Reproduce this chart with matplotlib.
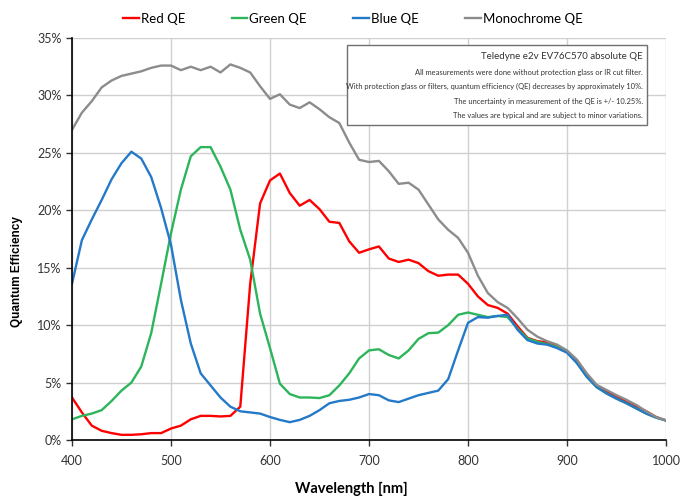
import matplotlib
matplotlib.use("Agg")
import matplotlib.pyplot as plt
from matplotlib.patches import Rectangle
from matplotlib.ticker import PercentFormatter

NARROW = ['Lato', 'DejaVu Sans']

wavelength = list(range(400, 1001, 10))

red_qe = [3.7, 2.4, 1.25, 0.8, 0.6, 0.45, 0.45, 0.5, 0.6, 0.6,
          1.0, 1.25, 1.8, 2.1, 2.1, 2.05, 2.1, 2.9, 13.6, 20.6,
          22.6, 23.2, 21.5, 20.4, 20.9, 20.1, 19.0, 18.9, 17.3, 16.3,
          16.6, 16.85, 15.8, 15.5, 15.7, 15.4, 14.7, 14.3, 14.4, 14.4,
          13.6, 12.5, 11.75, 11.5, 11.0, 9.9, 8.9, 8.6, 8.5, 8.2,
          7.7, 6.8, 5.7, 4.65, 4.2, 3.8, 3.3, 2.9, 2.5, 2.0, 1.7]

green_qe = [1.8, 2.1, 2.3, 2.6, 3.4, 4.3, 5.0, 6.4, 9.3, 13.6,
            18.0, 21.8, 24.7, 25.5, 25.5, 23.8, 21.8, 18.3, 15.7, 11.0,
            8.0, 4.9, 4.0, 3.7, 3.7, 3.65, 3.9, 4.75, 5.8, 7.1,
            7.8, 7.9, 7.4, 7.1, 7.8, 8.8, 9.3, 9.35, 10.0, 10.9,
            11.1, 10.9, 10.7, 10.8, 10.7, 9.7, 8.85, 8.55, 8.35, 8.1,
            7.7, 6.7, 5.5, 4.6, 4.05, 3.6, 3.2, 2.75, 2.3, 1.95, 1.7]

blue_qe = [13.6, 17.4, 19.2, 20.9, 22.7, 24.1, 25.1, 24.5, 22.9, 20.2,
           17.0, 12.2, 8.4, 5.8, 4.75, 3.7, 2.9, 2.5, 2.4, 2.3,
           2.0, 1.75, 1.55, 1.75, 2.1, 2.6, 3.2, 3.4, 3.5, 3.7,
           4.0, 3.9, 3.45, 3.3, 3.6, 3.9, 4.1, 4.3, 5.3, 7.8,
           10.2, 10.7, 10.65, 10.8, 10.9, 9.6, 8.7, 8.4, 8.3, 8.0,
           7.6, 6.7, 5.5, 4.6, 4.05, 3.6, 3.2, 2.75, 2.3, 1.95, 1.7]

mono_qe = [27.0, 28.5, 29.5, 30.7, 31.3, 31.7, 31.9, 32.1, 32.4, 32.6,
           32.6, 32.2, 32.5, 32.2, 32.5, 32.0, 32.7, 32.4, 32.0, 30.8,
           29.7, 30.1, 29.2, 28.9, 29.4, 28.8, 28.1, 27.6, 25.9, 24.4,
           24.2, 24.3, 23.4, 22.3, 22.4, 21.8, 20.5, 19.2, 18.3, 17.6,
           16.3, 14.3, 12.8, 12.0, 11.5, 10.6, 9.6, 9.0, 8.6, 8.3,
           7.8, 7.0, 5.8, 4.8, 4.35, 3.9, 3.5, 3.05, 2.5, 2.0, 1.7]

series_names = ['Red QE', 'Green QE', 'Blue QE', 'Monochrome QE']
series_colors = ['#ff0000', '#2cb55a', '#2479c8', '#8c8c8c']

note_title = 'Teledyne e2v EV76C570 absolute QE'
note_lines = ['All measurements were done without protection glass or IR cut filter.',
              'With protection glass or filters, quantum efficiency (QE) decreases by approximately 10%.',
              'The uncertainty in measurement of the QE is +/- 10.25%.',
              'The values are typical and are subject to minor variations.']

fig = plt.figure(figsize=(6.81, 5.04), dpi=100)
ax = fig.add_axes([0.1057, 0.127, 0.8723, 0.7976])

lines = []
for vals, name, col in zip([red_qe, green_qe, blue_qe, mono_qe], series_names, series_colors):
    ln, = ax.plot(wavelength, vals, color=col, lw=1.7, label=name)
    lines.append(ln)

ax.set_xlim(400, 1000)
ax.set_ylim(0, 35)
ax.set_xticks(range(400, 1001, 100))
ax.set_yticks(range(0, 36, 5))
ax.yaxis.set_major_formatter(PercentFormatter(decimals=0))
ax.grid(True, color='#d0d0d0', lw=1.0)
ax.set_axisbelow(True)
for s in ['top', 'right']:
    ax.spines[s].set_visible(False)
for s in ['left', 'bottom']:
    ax.spines[s].set_linewidth(1.2)
ax.tick_params(direction='out', length=4, width=1.0, labelsize=9, colors='#333333')
ax.tick_params(axis='x', pad=7)
for lab in ax.get_xticklabels() + ax.get_yticklabels():
    lab.set_family(NARROW)

ax.set_xlabel('Wavelength [nm]', family=NARROW, fontweight='bold', fontsize=10.5)
ax.xaxis.set_label_coords(0.47, -0.105)
ax.set_ylabel('Quantum Efficiency', family=['Liberation Sans', 'DejaVu Sans'],
              fontweight='bold', fontsize=8.5)
ax.yaxis.set_label_coords(-0.082, 0.418)

fig.legend(handles=lines, loc='center', bbox_to_anchor=(0.518, 0.963), ncol=4, frameon=False,
           prop={'family': NARROW, 'size': 9.5}, handlelength=1.2, handletextpad=0.15,
           columnspacing=3.5)

ax.add_patch(Rectangle((0.463, 0.784), 0.505, 0.199, transform=ax.transAxes,
                       facecolor='white', edgecolor='#707070', lw=1.0, zorder=5))
ax.text(0.961, 0.953, note_title, transform=ax.transAxes, ha='right', va='center',
        family=NARROW, fontsize=7, color='#333333', zorder=6)
for i, txt in enumerate(note_lines):
    ax.text(0.961, 0.915 - i * 0.036, txt, transform=ax.transAxes, ha='right', va='center',
            family=NARROW, fontsize=5.4, color='#333333', zorder=6)

fig.savefig('out.png', dpi=100)
